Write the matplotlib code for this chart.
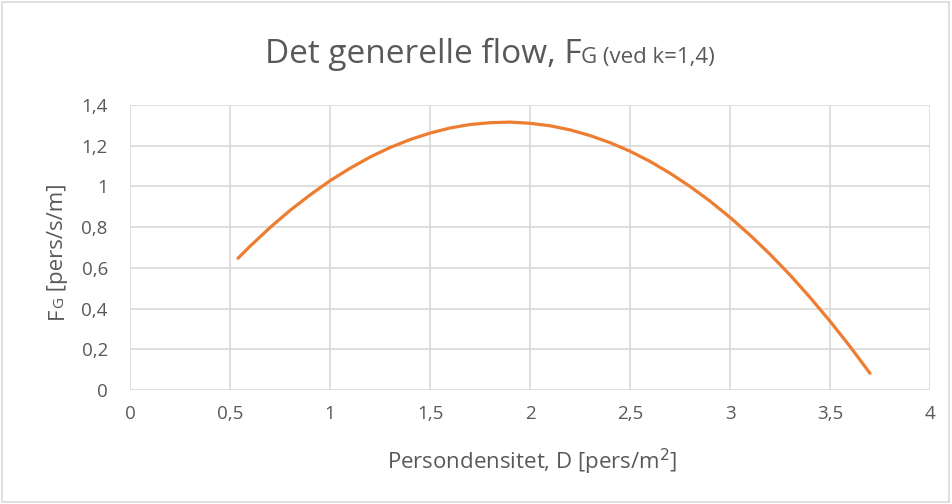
import matplotlib.pyplot as plt
from matplotlib.patches import Rectangle

# Data (D in pers/m2, F in pers/s/m)
density = [0.54, 0.6, 0.7, 0.8, 0.9, 1.0, 1.1, 1.2, 1.3, 1.4, 1.5, 1.6, 1.7,
           1.8, 1.9, 2.0, 2.1, 2.2, 2.3, 2.4, 2.5, 2.6, 2.7, 2.8, 2.9, 3.0,
           3.1, 3.2, 3.3, 3.4, 3.5, 3.6, 3.7]
flow = [0.647, 0.706, 0.798, 0.882, 0.958, 1.028, 1.089, 1.144, 1.191, 1.230,
        1.262, 1.287, 1.304, 1.313, 1.316, 1.310, 1.298, 1.278, 1.250, 1.215,
        1.173, 1.123, 1.065, 1.000, 0.928, 0.848, 0.761, 0.667, 0.565, 0.455,
        0.338, 0.214, 0.082]
xticks = [0, 0.5, 1, 1.5, 2, 2.5, 3, 3.5, 4]
xtick_labels = ["0", "0,5", "1", "1,5", "2", "2,5", "3", "3,5", "4"]
yticks = [0, 0.2, 0.4, 0.6, 0.8, 1.0, 1.2, 1.4]
ytick_labels = ["0", "0,2", "0,4", "0,6", "0,8", "1", "1,2", "1,4"]

plt.rcParams["font.family"] = ["Open Sans", "DejaVu Sans"]
grey = "#595959"
grid_c = "#d9d9d9"

fig = plt.figure(figsize=(9.52, 5.04), dpi=100)
ax = fig.add_axes([130 / 952, 1 - 390 / 504, 800 / 952, 285 / 504])

ax.plot(density, flow, color="#ED7D31", linewidth=2.3, solid_capstyle="round")

ax.set_xlim(0, 4)
ax.set_ylim(0, 1.4)
ax.set_xticks(xticks)
ax.set_xticklabels(xtick_labels)
ax.set_yticks(yticks)
ax.set_yticklabels(ytick_labels)
ax.tick_params(length=0, labelsize=13.5, labelcolor=grey)
ax.tick_params(axis="y", pad=16)
ax.tick_params(axis="x", pad=11)
ax.grid(True, color=grid_c, linewidth=1.2)
ax.set_axisbelow(True)
for s in ax.spines.values():
    s.set_visible(False)

# figure border
fig.patches.append(Rectangle((0.002, 0.003), 0.995, 0.994, transform=fig.transFigure,
                             fill=False, edgecolor=grid_c, linewidth=1.2))


def pieces(x, y, parts, rotation=0):
    # lay out text pieces of different size along one baseline, centred on (x, y)
    fig.canvas.draw()
    r = fig.canvas.get_renderer()
    objs = []
    for txt, size in parts:
        t = fig.text(0, 0, txt, fontsize=size, color=grey, rotation=rotation,
                     va="baseline", ha="left", rotation_mode="anchor")
        objs.append(t)
    widths = []
    for t in objs:
        bb = t.get_window_extent(r)
        widths.append(bb.height if rotation else bb.width)
    total = sum(widths)
    W, H = fig.bbox.width, fig.bbox.height
    pos = -total / 2
    for t, w in zip(objs, widths):
        if rotation:
            t.set_position((x, y + pos / H))
        else:
            t.set_position((x + pos / W, y))
        pos += w


pieces(490 / 952, 1 - 63 / 504, [("Det generelle flow, F", 24), ("G (ved k=1,4)", 16)])
pieces(63 / 952, 1 - 251 / 504, [("F", 16), ("G", 11), (" [pers/s/m]", 16)], rotation=90)
fig.text(532 / 952, 1 - 469 / 504, "Persondensitet, D [pers/m$^2$]", fontsize=16,
         color=grey, ha="center", va="baseline")

fig.savefig("out.png", dpi=100)
